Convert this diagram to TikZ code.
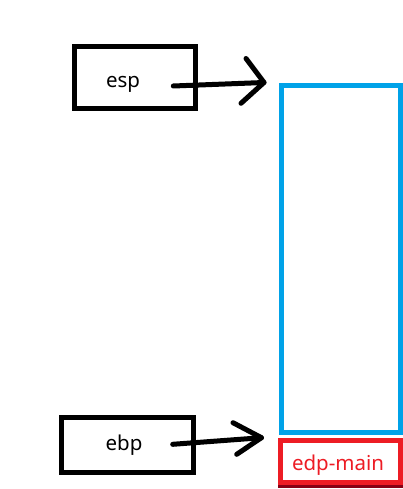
\documentclass[tikz,border=0pt]{standalone}
\usepackage{fontspec}
\setmainfont{Noto Sans}
\definecolor{paintblue}{HTML}{00A2E8}
\definecolor{paintred}{HTML}{ED1C24}
\definecolor{paintdark}{HTML}{880015}
\tikzset{
  regbox/.style={draw=black, line width=5pt, minimum width=#1, inner sep=0pt},
  lbl/.style={font=\fontsize{20.5}{24}\selectfont, inner sep=0pt, anchor=base},
  conn/.style={draw=black, line width=5pt, line cap=round, line join=round},
}
\begin{document}
\begin{tikzpicture}[x=1pt,y=-1pt]
\useasboundingbox (0,0) rectangle (403,489);
% register boxes
\node[regbox=120.4pt, minimum height=61.4pt] (espbox) at (135,77.5) {};
\node[regbox=131.5pt, minimum height=55pt] (ebpbox) at (127.5,445) {};
\node[lbl] (esp) at (123,87.5) {esp};
\node[lbl] (ebp) at (124,450.5) {ebp};
% stack
\node[draw=paintblue, line width=5pt, inner sep=0pt, minimum width=118.5pt, minimum height=347pt] (stack) at (340.75,259) {};
\node[draw=paintred, line width=5pt, inner sep=0pt, minimum width=119.5pt, minimum height=42.5pt] (mainframe) at (340.25,461.25) {};
\node[lbl, text=paintred] (edpmain) at (338,470.5) {edp-main};
\coordinate (dl) at (278,486.7);
\coordinate (dr) at (403,486.7);
\draw[paintdark, line width=3.4pt] (dl) -- (dr);
% arrows
\coordinate (espstart) at (173.3,86);
\coordinate (esptip) at (264,82.5);
\coordinate (espup) at (246,58.5);
\coordinate (esplow) at (241,103.3);
\draw[conn] (espstart) -- (esptip);
\draw[conn] (espup) -- (esptip) -- (esplow);
\coordinate (ebpstart) at (172.7,444.3);
\coordinate (ebptip) at (261.5,437.7);
\coordinate (ebpup) at (233,422.7);
\coordinate (ebplow) at (236.7,454.3);
\draw[conn] (ebpstart) -- (ebptip);
\draw[conn] (ebpup) -- (ebptip) -- (ebplow);
\end{tikzpicture}
\end{document}
